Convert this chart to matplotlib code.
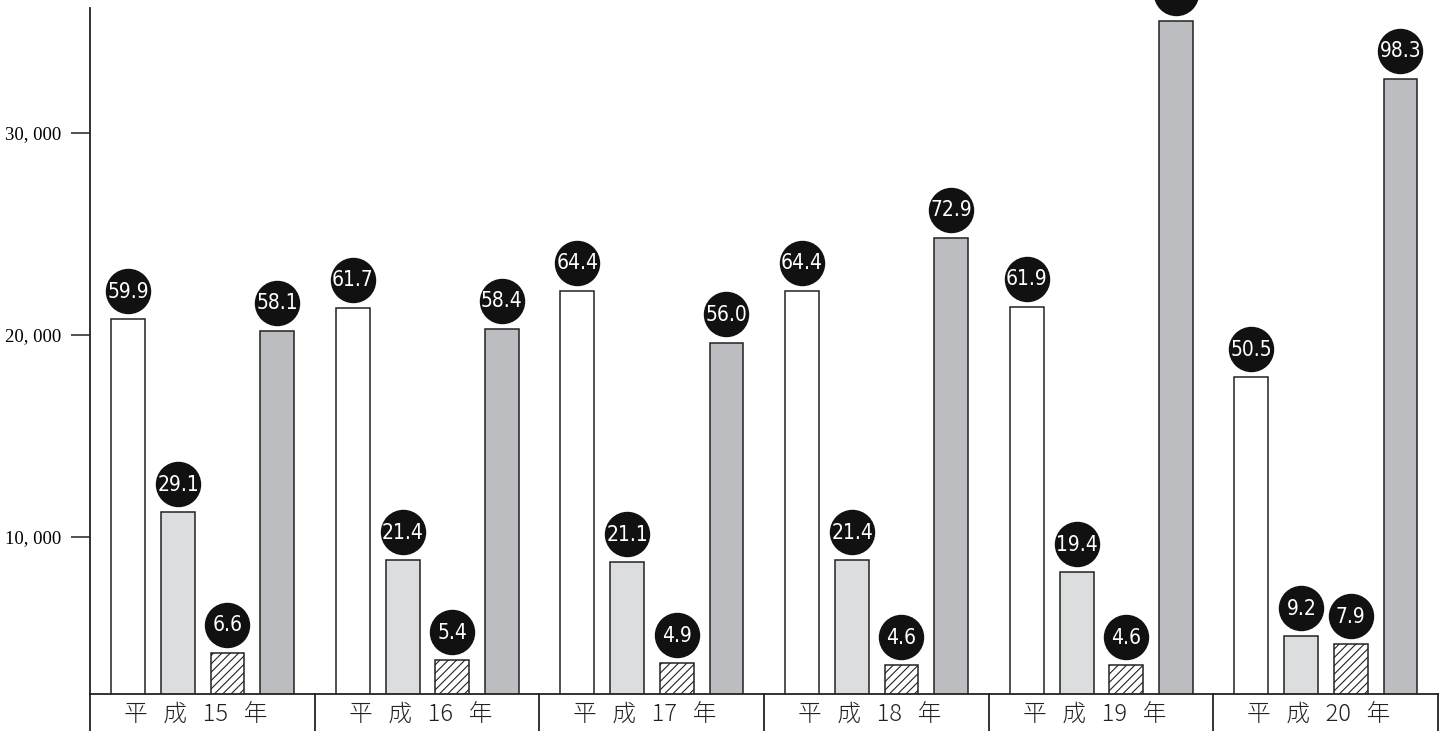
import matplotlib.pyplot as plt
import numpy as np
from matplotlib.transforms import offset_copy

# data
years = ['平   成   15   年', '平   成   16   年', '平   成   17   年',
         '平   成   18   年', '平   成   19   年', '平   成   20   年']
white_vals = [20790, 21350, 22190, 22190, 21400, 17890]
light_vals = [11230, 8840, 8740, 8840, 8240, 5080]
hatch_vals = [4270, 3890, 3740, 3640, 3640, 4680]
dark_vals = [20210, 20310, 19620, 24810, 35550, 32680]
white_lab = ['59.9', '61.7', '64.4', '64.4', '61.9', '50.5']
light_lab = ['29.1', '21.4', '21.1', '21.4', '19.4', '9.2']
hatch_lab = ['6.6', '5.4', '4.9', '4.6', '4.6', '7.9']
# the H19 badge is cut off by the top edge in the source, its text is not readable
dark_lab = ['58.1', '58.4', '56.0', '72.9', '', '98.3']

y_ticks = [10000, 20000, 30000]
y_ticklabels = ['10, 000', '20, 000', '30, 000']

plt.rcParams['hatch.linewidth'] = 0.8

fig = plt.figure(figsize=(14.48, 7.31), dpi=100)
ax = fig.add_axes([90 / 1448, 37 / 731, 1348 / 1448, 686 / 731])

x = np.arange(len(years))
offsets = [0.169, 0.392, 0.612, 0.833]
w = 0.151
edge = '#222222'

series = [
    (white_vals, white_lab, dict(color='white')),
    (light_vals, light_lab, dict(color='#dcdddf')),
    (hatch_vals, hatch_lab, dict(color='white', hatch='////')),
    (dark_vals, dark_lab, dict(color='#bcbdc1')),
]

badge_trans = offset_copy(ax.transData, fig=fig, x=0, y=20.2, units='points')

for (vals, labs, style), off in zip(series, offsets):
    bars = ax.bar(x + off, vals, width=w, edgecolor=edge, linewidth=1.1, **style)
    for b, lab in zip(bars, labs):
        cx = b.get_x() + b.get_width() / 2
        top = b.get_height()
        # black round badge above each bar
        ax.plot([cx], [top], marker='o', markersize=31.7, color='#111111',
                transform=badge_trans, clip_on=False, zorder=5)
        if lab:
            ax.annotate(lab, xy=(cx, top), xytext=(0, 19.7), textcoords='offset points',
                        ha='center', va='center', color='white', fontsize=15,
                        family='DejaVu Sans', fontstretch='condensed',
                        annotation_clip=False, zorder=6)

ax.set_xlim(0, 6)
ax.set_ylim(2220, 36180)

ax.spines['top'].set_visible(False)
ax.spines['right'].set_visible(False)
ax.spines['left'].set_color(edge)
ax.spines['bottom'].set_color(edge)
ax.spines['left'].set_linewidth(1.3)
ax.spines['bottom'].set_linewidth(1.3)

ax.set_yticks(y_ticks)
ax.set_yticklabels(y_ticklabels, family='Liberation Serif', fontsize=13.5)
ax.tick_params(axis='y', length=14, width=1.1, pad=7, color=edge)
ax.set_xticks([])

# category boxes under the baseline
trans = ax.get_xaxis_transform()
for xs in range(0, 7):
    ax.plot([xs, xs], [0, -0.07], transform=trans, color=edge, lw=1.3, clip_on=False)
for i, name in enumerate(years):
    ax.text(i + 0.47, -0.029, name, transform=trans, ha='center', va='center',
            fontsize=17, family=['Noto Sans CJK JP', 'DejaVu Sans'],
            fontweight='light', color='#222222')

fig.savefig('out.png', dpi=100)
